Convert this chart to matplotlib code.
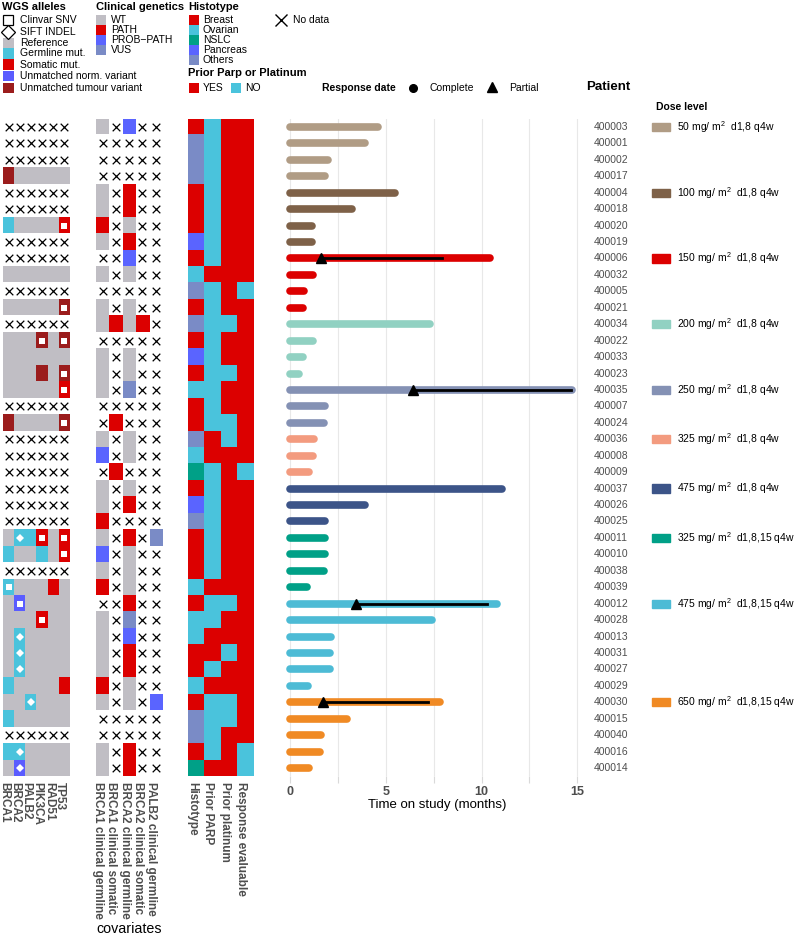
import numpy as np
import matplotlib
matplotlib.use('Agg')
import matplotlib.pyplot as plt
from matplotlib.patches import Rectangle
from matplotlib.colors import to_rgb
from matplotlib.transforms import blended_transform_factory

plt.rcParams['font.family'] = ['Liberation Sans', 'DejaVu Sans']
plt.rcParams['mathtext.default'] = 'regular'

W, H = 797, 935

# ---- data ----
patients = ['400003', '400001', '400002', '400017', '400004', '400018', '400020', '400019',
            '400006', '400032', '400005', '400021', '400034', '400022', '400033', '400023',
            '400035', '400007', '400024', '400036', '400008', '400009', '400037', '400026',
            '400025', '400011', '400010', '400038', '400039', '400012', '400028', '400013',
            '400031', '400027', '400029', '400030', '400015', '400040', '400016', '400014']

dose_levels = ['50 mg/ m$^2$  d1,8 q4w', '100 mg/ m$^2$  d1,8 q4w', '150 mg/ m$^2$  d1,8 q4w',
               '200 mg/ m$^2$  d1,8 q4w', '250 mg/ m$^2$  d1,8 q4w', '325 mg/ m$^2$  d1,8 q4w',
               '475 mg/ m$^2$  d1,8 q4w', '325 mg/ m$^2$  d1,8,15 q4w', '475 mg/ m$^2$  d1,8,15 q4w',
               '650 mg/ m$^2$  d1,8,15 q4w']
dose_colors = ['#B09C85', '#7E6148', '#DC0000', '#91D1C2', '#8491B4',
               '#F39B7F', '#3C5488', '#00A087', '#4DBBD5', '#F08A24']
dose = [0, 0, 0, 0, 1, 1, 1, 1, 2, 2, 2, 2, 3, 3, 3, 3, 4, 4, 4, 5,
        5, 5, 6, 6, 6, 7, 7, 7, 7, 8, 8, 8, 8, 8, 8, 9, 9, 9, 9, 9]
months = [4.6, 3.9, 2.0, 1.85, 5.5, 3.25, 1.15, 1.15, 10.45, 1.2, 0.72, 0.68,
          7.3, 1.2, 0.67, 0.45, 14.7, 1.85, 1.8, 1.25, 1.2, 1.0, 11.05, 3.9,
          1.85, 1.85, 1.85, 1.8, 0.9, 10.8, 7.4, 2.15, 2.1, 2.1, 0.93, 7.85,
          3.0, 1.62, 1.58, 1.0]

# partial responses: patient, response date, end of response
resp_patient = ['400006', '400035', '400012', '400030']
resp_start = [1.63, 6.4, 3.44, 1.7]
resp_end = [7.92, 14.65, 10.27, 7.19]

# WGS alleles: X no data, R reference, G germline, S somatic,
# N unmatched normal variant, T unmatched tumour variant
wgs_genes = ['BRCA1', 'BRCA2', 'PALB2', 'PIK3CA', 'RAD51', 'TP53']
wgs = ['XXXXXX', 'XXXXXX', 'XXXXXX', 'TRRRRR', 'XXXXXX', 'XXXXXX', 'GRRRRS', 'XXXXXX',
       'XXXXXX', 'RRRRRR', 'XXXXXX', 'RRRRRT', 'XXXXXX', 'RRRTRT', 'RRRRRR', 'RRRTRT',
       'RRRRRS', 'XXXXXX', 'TRRRRT', 'XXXXXX', 'XXXXXX', 'XXXXXX', 'XXXXXX', 'XXXXXX',
       'XXXXXX', 'RGGSRS', 'GRRGRS', 'XXXXXX', 'GRRRSR', 'RNRRRR', 'RRRSRR', 'RGRRRR',
       'RGRRRR', 'RGRRRR', 'GRRRRS', 'RRGRRR', 'GRRRRR', 'XXXXXX', 'GGRRRR', 'RNRRRR']
# s = Clinvar SNV, d = SIFT INDEL
wgs_marks = ['......', '......', '......', '......', '......', '......', '.....s', '......',
             '......', '......', '......', '.....s', '......', '...s.s', '......', '.....s',
             '.....s', '......', '.....s', '......', '......', '......', '......', '......',
             '......', '.d.s.s', '.....s', '......', 's.....', '.s....', '...s..', '.d....',
             '.d....', '.d....', '......', '..d...', '......', '......', '.d....', '.d....']

# clinical genetics: W WT, P PATH, B PROB-PATH, V VUS
cov_labels = ['BRCA1 clinical germline', 'BRCA1 clinical somatic', 'BRCA2 clinical germline',
              'BRCA2 clinical somatic', 'PALB2 clinical germline']
cov = ['WXBXX', 'XXXXX', 'XXXXX', 'XXXXX', 'WXPXX', 'WXPXX', 'PXWXX', 'WXPXX',
       'XXBXX', 'WXWXX', 'XXXXX', 'WXWXX', 'WPWPX', 'XXXXX', 'WXWXX', 'WXWXX',
       'WXVXX', 'XXXXX', 'XPXXX', 'WXWXX', 'BXWXX', 'XPXXX', 'WXWXX', 'WXPXX',
       'PXXXX', 'WXPXV', 'BXWXX', 'WXWXX', 'PXWXX', 'XXPXX', 'WXVXX', 'WXBXX',
       'WXPXX', 'WXPXX', 'PXWXX', 'WXWXB', 'XXXXX', 'XXXXX', 'WXPXX', 'WXPXX']

# histotype: B breast, O ovarian, N NSLC, P pancreas, T others
clin_labels = ['Histotype', 'Prior PARP', 'Prior platinum', 'Response evaluable']
histotype = 'BTTTBBBPBOTBTBPBOBBTONBPTBBBOBOOBBOBTTBN'
prior_parp = 'NNNNNNNNNYNNNNNNNNNYYNNNNNNNYNNYYNYNNNNY'
prior_platinum = 'YYYYYYYYYYYYNYYNYYNNYYYYYYYYYNYYNYYNNYYY'
response_eval = 'YYYYYYYYYYNYYYYYYYYYYNYYYYYYYYYYYYYYYYNN'

GRAY = '#C0BEC4'
RED = '#DC0000'
CYAN = '#4AC3DC'
wgs_pal = {'R': GRAY, 'G': CYAN, 'S': RED, 'N': '#5A5CFF', 'T': '#9B1C1C'}
cov_pal = {'W': GRAY, 'P': RED, 'B': '#5A64FF', 'V': '#7A8BC6'}
hist_pal = {'B': RED, 'O': CYAN, 'N': '#00A087', 'P': '#5A64FF', 'T': '#7A8BC6'}
yn_pal = {'Y': RED, 'N': CYAN}

# ---- layout ----
fig = plt.figure(figsize=(W / 100, H / 100), dpi=100)
n = len(patients)
ROW_TOP, ROW_BOT = 118.8, 776.2


def add_ax(x0, x1):
    ax = fig.add_axes([x0 / W, 1 - ROW_BOT / H, (x1 - x0) / W, (ROW_BOT - ROW_TOP) / H])
    ax.set_ylim(n - 0.5, -0.5)
    return ax


def tile_panel(ax, rows, palettes, marks=None):
    m = len(rows[0])
    img = np.zeros((n, m, 4))
    xs, ys = [], []
    for i, r in enumerate(rows):
        for j, c in enumerate(r):
            if c == 'X':
                xs.append(j)
                ys.append(i)
            else:
                img[i, j, :3] = to_rgb(palettes[j][c])
                img[i, j, 3] = 1
    ax.imshow(img, extent=(-0.5, m - 0.5, n - 0.5, -0.5), aspect='auto', interpolation='nearest')
    ax.scatter(xs, ys, marker='x', s=30, linewidths=0.9, color='black')
    if marks is not None:
        for i, r in enumerate(marks):
            for j, c in enumerate(r):
                if c == 's':
                    ax.plot(j, i, marker='s', ms=3.8, color='white', mew=0)
                elif c == 'd':
                    ax.plot(j, i, marker='D', ms=4.2, color='white', mew=0)
    ax.set_xlim(-0.5, m - 0.5)
    ax.set_ylim(n - 0.5, -0.5)
    ax.axis('off')


def bottom_labels(x0, x1, labels):
    w = (x1 - x0) / len(labels)
    for j, lab in enumerate(labels):
        ov.text(x0 + w * (j + 0.5) - 4.5, 782, lab, rotation=270, ha='center', va='top',
                fontsize=8.5, fontweight='bold', color='#4D4D4D')


# overlay in pixel coords for legends / labels
ov = fig.add_axes([0, 0, 1, 1])
ov.set_xlim(0, W)
ov.set_ylim(H, 0)
ov.axis('off')

ax_w = add_ax(3.3, 70)
tile_panel(ax_w, wgs, [wgs_pal] * 6, wgs_marks)
ax_c = add_ax(96, 162.3)
tile_panel(ax_c, cov, [cov_pal] * 5)
ax_k = add_ax(188.3, 254)
clin_rows = [''.join(t) for t in zip(histotype, prior_parp, prior_platinum, response_eval)]
tile_panel(ax_k, clin_rows, [hist_pal, yn_pal, yn_pal, yn_pal])

bottom_labels(3.3, 70, wgs_genes)
bottom_labels(96, 162.3, cov_labels)
bottom_labels(188.3, 254, clin_labels)
ov.text(129.5, 929, 'covariates', ha='center', va='center', fontsize=10.3)

# ---- time on study ----
x0px, pxm = 290.0, 19.15
L, R = 282, 592
ax = add_ax(L, R)
ax.set_xlim((L - x0px) / pxm, (R - x0px) / pxm)
for i, (v, d) in enumerate(zip(months, dose)):
    ax.plot([0, v], [i, i], color=dose_colors[d], lw=5.5, solid_capstyle='round', zorder=2)
for p, s, e in zip(resp_patient, resp_start, resp_end):
    i = patients.index(p)
    ax.plot([s, e], [i, i], color='black', lw=2, zorder=3)
    ax.plot(s, i, marker='^', ms=7.5, color='black', zorder=4)
ax.set_xticks([0, 5, 10, 15])
ax.set_xticks([2.5, 7.5, 12.5], minor=True)
ax.grid(which='both', axis='x', color='#E8E8E8', lw=0.8)
ax.set_axisbelow(True)
ax.set_yticks([])
for sp in ax.spines.values():
    sp.set_visible(False)
ax.tick_params(axis='x', which='both', length=5, color='#D9D9D9', width=0.8, pad=2,
               labelsize=9, labelcolor='#4D4D4D')
for t in ax.get_xticklabels():
    t.set_fontweight('bold')
ax.set_xlabel('Time on study (months)', fontsize=9.5, labelpad=1)
ax.patch.set_alpha(0)

trans = blended_transform_factory(fig.transFigure, ax.transData)
for i, p in enumerate(patients):
    ax.text(628 / W, i, p, transform=trans, ha='right', va='center', fontsize=7.5,
            color='#4D4D4D', clip_on=False)

# dose level legend at first row of each group
for g, (lab, col) in enumerate(zip(dose_levels, dose_colors)):
    first = dose.index(g)
    ax.add_patch(Rectangle((652 / W, first - 0.25), 18 / W, 0.5, transform=trans,
                           color=col, clip_on=False))
    ax.text(677 / W, first, lab, transform=trans, ha='left', va='center', fontsize=7.5,
            color='black', clip_on=False)

# ---- top legends ----
def key(x, y, col, w=11, h=10.5):
    ov.add_patch(Rectangle((x, y - h / 2), w, h, color=col, lw=0))


def ltext(x, y, s, size=7.5, **kw):
    ov.text(x, y, s, ha='left', va='center', fontsize=size, **kw)


ltext(2, 7, 'WGS alleles', size=8, fontweight='bold')
ov.plot(8.5, 20, marker='s', ms=7, mfc='white', mec='black', mew=0.9)
ltext(20, 20, 'Clinvar SNV')
ov.plot(8.5, 32, marker='D', ms=7, mfc='white', mec='black', mew=0.9)
ltext(20, 32, 'SIFT INDEL')
for y, c, s in zip([43, 53.5, 64.5, 76, 88],
                   [GRAY, CYAN, RED, '#5A5CFF', '#9B1C1C'],
                   ['Reference', 'Germline mut.', 'Somatic mut.', 'Unmatched norm. variant',
                    'Unmatched tumour variant']):
    key(3, y, c)
    ltext(20, y, s)

ltext(96, 7, 'Clinical genetics', size=8, fontweight='bold')
for y, c, s in zip([20, 30, 40, 50], [GRAY, RED, '#5A64FF', '#7A8BC6'],
                   ['WT', 'PATH', 'PROB\u2212PATH', 'VUS']):
    key(96, y, c, w=10.5, h=10)
    ltext(111, y, s)

ltext(188, 7, 'Histotype', size=8, fontweight='bold')
for y, c, s in zip([20, 30, 40, 50, 60], [RED, CYAN, '#00A087', '#5A64FF', '#7A8BC6'],
                   ['Breast', 'Ovarian', 'NSLC', 'Pancreas', 'Others']):
    key(189, y, c, w=10.5, h=10)
    ltext(203, y, s)

ltext(188, 73, 'Prior Parp or Platinum', size=8, fontweight='bold')
key(189, 88, RED, w=10.5, h=10)
ltext(203, 88, 'YES')
key(231, 88, CYAN, w=10.5, h=10)
ltext(245, 88, 'NO')

ov.plot(281, 20, marker='x', ms=8, mew=1, color='black')
ltext(293, 20, 'No data')

ltext(322, 88, 'Response date', fontweight='bold')
ov.plot(413, 88, marker='o', ms=5.5, color='black')
ltext(430, 88, 'Complete')
ov.plot(492, 87, marker='^', ms=7, color='black')
ltext(509, 88, 'Partial')
ltext(586, 87, 'Patient', size=9.5, fontweight='bold')
ltext(656, 107, 'Dose level', fontweight='bold')

fig.savefig('out.png', dpi=100)
